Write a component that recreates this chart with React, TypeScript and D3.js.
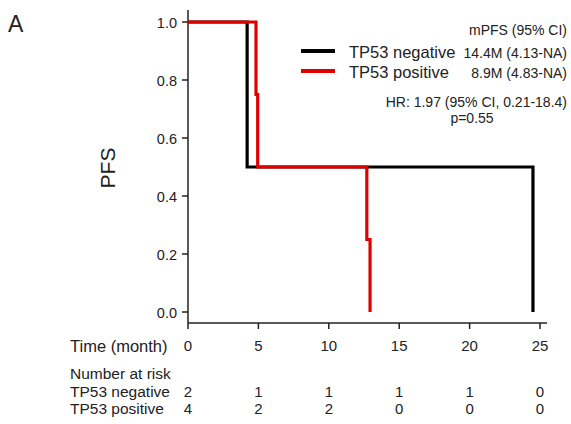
import React from "react";
import * as d3 from "d3";

const xTicks = [0, 5, 10, 15, 20, 25];
const yTicks = [0.0, 0.2, 0.4, 0.6, 0.8, 1.0];
const negTimes = [0, 4.2, 24.5];
const negSurv = [1.0, 0.5, 0.0];
const posTimes = [0, 4.83, 4.95, 12.7, 12.93];
const posSurv = [1.0, 0.75, 0.5, 0.25, 0.0];
const riskNeg = [2, 1, 1, 1, 1, 0];
const riskPos = [4, 2, 2, 0, 0, 0];
const groups = ["TP53 negative", "TP53 positive"];
const mpfs = ["14.4M (4.13-NA)", "8.9M (4.83-NA)"];
const colors = ["#000000", "#e00000"];

const FONT = "'Liberation Sans', Arial, sans-serif";

export default function App() {
  const W = 571, H = 424;
  const x = d3.scaleLinear().domain([0, 25]).range([188, 540]);
  const y = d3.scaleLinear().domain([0, 1]).range([312, 22]);
  const axisY = 323;
  const line = d3
    .line<[number, number]>()
    .x((d) => x(d[0]))
    .y((d) => y(d[1]))
    .curve(d3.curveStepAfter);
  const negPts = negTimes.map((t, i) => [t, negSurv[i]] as [number, number]);
  const posPts = posTimes.map((t, i) => [t, posSurv[i]] as [number, number]);

  return (
    <svg
      width={W}
      height={H}
      style={{ position: "absolute", left: 0, top: 0, background: "#fff" }}
      fontFamily={FONT}
    >
      <rect width={W} height={H} fill="#fff" />
      <text x={8} y={32} fontSize={23} fill="#222">A</text>
      {/* axes */}
      <line x1={188} x2={188} y1={10} y2={axisY} stroke="#222" strokeWidth={1.5} />
      <line x1={188} x2={547} y1={axisY} y2={axisY} stroke="#222" strokeWidth={1.5} />
      {yTicks.map((t) => (
        <g key={"y" + t}>
          <line x1={182} x2={188} y1={y(t)} y2={y(t)} stroke="#222" strokeWidth={1.5} />
          <text x={177} y={y(t) + 1} dy="0.35em" textAnchor="end" fontSize={14.5} fill="#222">
            {t.toFixed(1)}
          </text>
        </g>
      ))}
      {xTicks.map((t) => (
        <g key={"x" + t}>
          <line x1={x(t)} x2={x(t)} y1={axisY} y2={axisY + 6} stroke="#222" strokeWidth={1.5} />
          <text x={x(t)} y={346} dy="0.35em" textAnchor="middle" fontSize={15} fill="#222">
            {t}
          </text>
        </g>
      ))}
      <text
        transform={`translate(115,168) rotate(-90)`}
        textAnchor="middle"
        fontSize={21}
        fill="#222"
      >
        PFS
      </text>
      {/* curves */}
      <path d={line(negPts) || ""} fill="none" stroke={colors[0]} strokeWidth={3.2} />
      <path d={line(posPts) || ""} fill="none" stroke={colors[1]} strokeWidth={3.2} />
      {/* legend */}
      <text x={567} y={30} dy="0.35em" textAnchor="end" fontSize={14} fill="#222">
        mPFS (95% CI)
      </text>
      {groups.map((g, i) => (
        <g key={g}>
          <line x1={301} x2={335} y1={51 + i * 20} y2={51 + i * 20} stroke={colors[i]} strokeWidth={4} />
          <text x={349} y={52 + i * 20} dy="0.35em" fontSize={16.5} fill="#222">{g}</text>
          <text x={567} y={53 + i * 20} dy="0.35em" textAnchor="end" fontSize={14} fill="#222">
            {mpfs[i]}
          </text>
        </g>
      ))}
      <text x={567} y={102} dy="0.35em" textAnchor="end" fontSize={14} fill="#222">
        HR: 1.97 (95% CI, 0.21-18.4)
      </text>
      <text x={472} y={118} dy="0.35em" textAnchor="middle" fontSize={14} fill="#222">
        p=0.55
      </text>
      {/* bottom table */}
      <text x={70} y={346} dy="0.35em" fontSize={16.5} fill="#222">Time (month)</text>
      <text x={70} y={374} dy="0.35em" fontSize={15.5} fill="#222">Number at risk</text>
      <text x={70} y={392} dy="0.35em" fontSize={15.5} fill="#222">{groups[0]}</text>
      <text x={70} y={409} dy="0.35em" fontSize={15.5} fill="#222">{groups[1]}</text>
      {xTicks.map((t, i) => (
        <g key={"r" + t}>
          <text x={x(t)} y={392} dy="0.35em" textAnchor="middle" fontSize={15} fill="#222">{riskNeg[i]}</text>
          <text x={x(t)} y={409} dy="0.35em" textAnchor="middle" fontSize={15} fill="#222">{riskPos[i]}</text>
        </g>
      ))}
    </svg>
  );
}
